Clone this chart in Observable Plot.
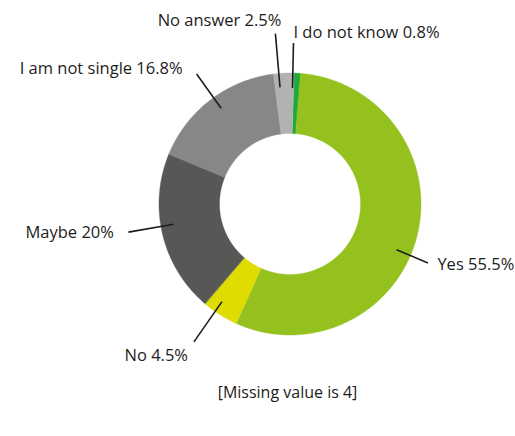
<!DOCTYPE html>
<html>
<head>
<meta charset="utf-8">
<script src="https://cdn.jsdelivr.net/npm/d3@7"></script>
<script src="https://cdn.jsdelivr.net/npm/@observablehq/plot@0.6"></script>
<style>
  body { margin: 0; background: #fff; }
  #caption { width: 515px; box-sizing: border-box; padding-left: 60px; text-align: center;
    font: 16px "Open Sans", sans-serif; line-height: 22px; color: #1d1d1b; margin-top: 6px; }
</style>
</head>
<body>
<div id="chart"></div>
<div id="caption">[Missing value is 4]</div>
<script>
// ---- data ----
const categories = ["I do not know", "Yes", "No", "Maybe", "I am not single", "No answer"];
const values = [0.8, 55.5, 4.5, 20, 16.8, 2.5];
const labels = ["I do not know 0.8%", "Yes 55.5%", "No 4.5%", "Maybe 20%", "I am not single 16.8%", "No answer 2.5%"];
const colors = ["#1ca93d", "#95c11f", "#dedc00", "#575756", "#878787", "#b2b2b2"];

// ---- layout ----
const W = 515, H = 375, cx = 289.5, cy = 203.5, R = 131, R0 = 70.5, FS = 16.5;
const START = 1.8 * Math.PI / 180;
const layout = {
  "I do not know":   {nudge: -2.0, rIn: 116, rOut: 161, anchor: "start",  dx: 0,     dy: -10},
  "Yes":             {nudge: 8.7,  rIn: 116, rOut: 150, anchor: "start",  dx: 9.5,   dy: 1.7},
  "No":              {nudge: 2.5,  rIn: 119, rOut: 168, anchor: "middle", dx: -37.7, dy: 13.7},
  "Maybe":           {nudge: 3.7,  rIn: 118, rOut: 164, anchor: "end",    dx: -14.5, dy: 1},
  "I am not single": {nudge: 1.7,  rIn: 118, rOut: 160, anchor: "end",    dx: -14,   dy: -5},
  "No answer":       {nudge: -2.2, rIn: 117, rOut: 171, anchor: "end",    dx: 6,     dy: -13.3}
};

const table = categories.map((c, i) => ({category: c, value: values[i], label: labels[i]}));
const arcs = d3.pie().sort(null).value(d => d.value).startAngle(START).endAngle(START + 2 * Math.PI)(table);

const px = (r, a) => r * Math.sin(a);
const py = (r, a) => -r * Math.cos(a);

// polygon outline of each ring slice (geometry only)
const slicePts = [];
for (const a of arcs) {
  const n = Math.max(2, Math.ceil((a.endAngle - a.startAngle) / (Math.PI / 360)));
  const pts = [];
  for (let k = 0; k <= n; k++) {
    const t = a.startAngle + (a.endAngle - a.startAngle) * k / n;
    pts.push([px(R, t), py(R, t)]);
  }
  for (let k = n; k >= 0; k--) {
    const t = a.startAngle + (a.endAngle - a.startAngle) * k / n;
    pts.push([px(R0, t), py(R0, t)]);
  }
  for (const [x, y] of pts) slicePts.push({category: a.data.category, x, y});
}

const leaders = arcs.map(a => {
  const L = layout[a.data.category];
  const ang = (a.startAngle + a.endAngle) / 2 + L.nudge * Math.PI / 180;
  const x2 = px(L.rOut, ang), y2 = py(L.rOut, ang);
  return {
    category: a.data.category, label: a.data.label, anchor: L.anchor,
    x1: px(L.rIn, ang), y1: py(L.rIn, ang), x2, y2,
    tx: x2 + L.dx, ty: y2 + L.dy
  };
});

const textMark = anchor => Plot.text(leaders.filter(d => d.anchor === anchor), {
  x: "tx", y: "ty", text: "label", textAnchor: anchor,
  fontSize: FS, fill: "#1d1d1b", fontFamily: "Open Sans"
});

const chart = Plot.plot({
  width: W, height: H,
  margin: 0,
  style: {fontFamily: "Open Sans", background: "#fff"},
  x: {domain: [-cx, W - cx], range: [0, W], axis: null},
  y: {domain: [-cy, H - cy], range: [0, H], axis: null},
  color: {domain: categories, range: colors},
  marks: [
    Plot.line(slicePts, {x: "x", y: "y", z: "category", fill: "category", stroke: "category", strokeWidth: 0.4, curve: "linear-closed"}),
    Plot.link(leaders, {x1: "x1", y1: "y1", x2: "x2", y2: "y2", stroke: "#1d1d1b", strokeWidth: 1.6}),
    textMark("start"),
    textMark("end"),
    textMark("middle")
  ]
});
document.getElementById("chart").appendChild(chart);
</script>
</body>
</html>
